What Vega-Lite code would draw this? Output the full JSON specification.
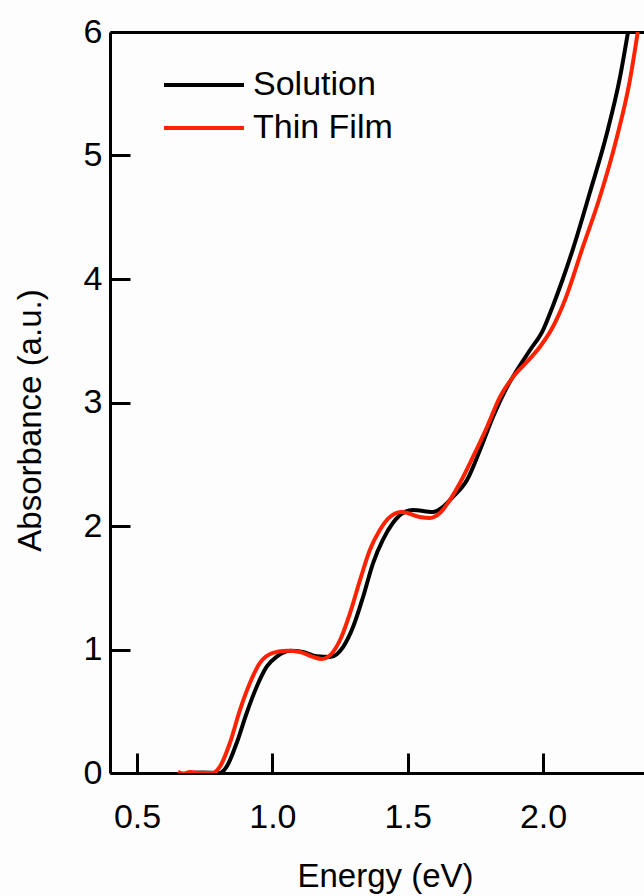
{
  "$schema": "https://vega.github.io/schema/vega-lite/v6.json",
  "width": 534,
  "height": 741,
  "autosize": {"type": "none"},
  "padding": {"left": 110, "top": 32, "right": 0, "bottom": 123},
  "background": "#fdfdfd",
  "config": {
    "view": {"stroke": null},
    "font": "Liberation Sans",
    "axis": {"grid": false, "domainColor": "#000", "domainWidth": 3, "tickColor": "#000", "tickWidth": 3, "labelColor": "#000", "titleColor": "#000", "labelFont": "Liberation Sans", "titleFont": "Liberation Sans", "titleFontWeight": "normal"}
  },
  "data": {"values": [
    {"s": "Solution", "e": 0.68, "a": 0.0},
    {"s": "Solution", "e": 0.74, "a": 0.005},
    {"s": "Solution", "e": 0.806, "a": 0.0},
    {"s": "Solution", "e": 0.831, "a": 0.051},
    {"s": "Solution", "e": 0.868, "a": 0.243},
    {"s": "Solution", "e": 0.905, "a": 0.486},
    {"s": "Solution", "e": 0.942, "a": 0.699},
    {"s": "Solution", "e": 0.979, "a": 0.861},
    {"s": "Solution", "e": 1.016, "a": 0.942},
    {"s": "Solution", "e": 1.065, "a": 0.99},
    {"s": "Solution", "e": 1.113, "a": 0.98},
    {"s": "Solution", "e": 1.164, "a": 0.945},
    {"s": "Solution", "e": 1.213, "a": 0.939},
    {"s": "Solution", "e": 1.261, "a": 1.02},
    {"s": "Solution", "e": 1.298, "a": 1.182},
    {"s": "Solution", "e": 1.335, "a": 1.425},
    {"s": "Solution", "e": 1.372, "a": 1.7},
    {"s": "Solution", "e": 1.408, "a": 1.887},
    {"s": "Solution", "e": 1.445, "a": 2.024},
    {"s": "Solution", "e": 1.482, "a": 2.105},
    {"s": "Solution", "e": 1.519, "a": 2.13},
    {"s": "Solution", "e": 1.593, "a": 2.113},
    {"s": "Solution", "e": 1.63, "a": 2.154},
    {"s": "Solution", "e": 1.667, "a": 2.235},
    {"s": "Solution", "e": 1.719, "a": 2.372},
    {"s": "Solution", "e": 1.767, "a": 2.615},
    {"s": "Solution", "e": 1.815, "a": 2.883},
    {"s": "Solution", "e": 1.867, "a": 3.126},
    {"s": "Solution", "e": 1.904, "a": 3.263},
    {"s": "Solution", "e": 1.952, "a": 3.425},
    {"s": "Solution", "e": 2.0, "a": 3.587},
    {"s": "Solution", "e": 2.036, "a": 3.78},
    {"s": "Solution", "e": 2.073, "a": 4.0},
    {"s": "Solution", "e": 2.11, "a": 4.24},
    {"s": "Solution", "e": 2.173, "a": 4.7},
    {"s": "Solution", "e": 2.236, "a": 5.18},
    {"s": "Solution", "e": 2.284, "a": 5.63},
    {"s": "Solution", "e": 2.314, "a": 6.0},
    {"s": "Thin Film", "e": 0.651, "a": 0.01},
    {"s": "Thin Film", "e": 0.67, "a": -0.005},
    {"s": "Thin Film", "e": 0.696, "a": 0.008},
    {"s": "Thin Film", "e": 0.73, "a": 0.0},
    {"s": "Thin Film", "e": 0.78, "a": 0.0},
    {"s": "Thin Film", "e": 0.806, "a": 0.051},
    {"s": "Thin Film", "e": 0.843, "a": 0.243},
    {"s": "Thin Film", "e": 0.88, "a": 0.51},
    {"s": "Thin Film", "e": 0.917, "a": 0.729},
    {"s": "Thin Film", "e": 0.954, "a": 0.891},
    {"s": "Thin Film", "e": 1.002, "a": 0.972},
    {"s": "Thin Film", "e": 1.053, "a": 0.99},
    {"s": "Thin Film", "e": 1.102, "a": 0.98},
    {"s": "Thin Film", "e": 1.15, "a": 0.94},
    {"s": "Thin Film", "e": 1.183, "a": 0.923},
    {"s": "Thin Film", "e": 1.25, "a": 1.077},
    {"s": "Thin Film", "e": 1.287, "a": 1.296},
    {"s": "Thin Film", "e": 1.324, "a": 1.563},
    {"s": "Thin Film", "e": 1.36, "a": 1.806},
    {"s": "Thin Film", "e": 1.397, "a": 1.968},
    {"s": "Thin Film", "e": 1.434, "a": 2.073},
    {"s": "Thin Film", "e": 1.479, "a": 2.113},
    {"s": "Thin Film", "e": 1.545, "a": 2.073},
    {"s": "Thin Film", "e": 1.582, "a": 2.065},
    {"s": "Thin Film", "e": 1.619, "a": 2.105},
    {"s": "Thin Film", "e": 1.656, "a": 2.211},
    {"s": "Thin Film", "e": 1.693, "a": 2.348},
    {"s": "Thin Film", "e": 1.741, "a": 2.559},
    {"s": "Thin Film", "e": 1.793, "a": 2.802},
    {"s": "Thin Film", "e": 1.841, "a": 3.045},
    {"s": "Thin Film", "e": 1.889, "a": 3.206},
    {"s": "Thin Film", "e": 1.94, "a": 3.328},
    {"s": "Thin Film", "e": 1.988, "a": 3.449},
    {"s": "Thin Film", "e": 2.036, "a": 3.611},
    {"s": "Thin Film", "e": 2.081, "a": 3.83},
    {"s": "Thin Film", "e": 2.147, "a": 4.259},
    {"s": "Thin Film", "e": 2.21, "a": 4.664},
    {"s": "Thin Film", "e": 2.273, "a": 5.15},
    {"s": "Thin Film", "e": 2.321, "a": 5.611},
    {"s": "Thin Film", "e": 2.35, "a": 6.0}
  ]},
  "layer": [
    {
      "mark": {"type": "line", "strokeWidth": 4, "interpolate": "monotone", "clip": true},
      "encoding": {
        "x": {"field": "e", "type": "quantitative", "scale": {"domain": [0.4, 2.373], "nice": false, "zero": false},
          "axis": {"orient": "bottom", "values": [0.5, 1.0, 1.5, 2.0], "format": ".1f", "tickSize": -20, "labelPadding": 47, "labelFontSize": 34, "labelBaseline": "top", "title": "Energy (eV)", "titleFontSize": 33, "titleX": 275, "titleY": 113, "titleBaseline": "alphabetic", "titleAlign": "center"}},
        "y": {"field": "a", "type": "quantitative", "scale": {"domain": [0, 6], "nice": false},
          "axis": {"values": [0, 1, 2, 3, 4, 5, 6], "tickSize": -20, "labelPadding": 28, "labelFontSize": 34, "title": "Absorbance (a.u.)", "titleFontSize": 33, "titleX": -80, "titleY": 388, "titleAngle": -90, "titleAlign": "center", "titleBaseline": "middle"}},
        "color": {"field": "s", "type": "nominal", "scale": {"domain": ["Solution", "Thin Film"], "range": ["#000000", "#ff2200"]},
          "legend": {"title": null, "orient": "none", "legendX": 77, "legendY": 36, "symbolType": "M-4,0H4", "symbolSize": 400, "symbolStrokeWidth": 4, "labelFontSize": 34, "labelOffset": 32, "rowPadding": 9, "labelColor": "#000", "labelFont": "Liberation Sans"}}
      }
    },
    {
      "mark": {"type": "rule", "opacity": 0},
      "encoding": {
        "x": {"datum": 0.4, "type": "quantitative", "axis": {"orient": "top", "labels": false, "ticks": false, "title": null}}
      }
    }
  ],
  "resolve": {"axis": {"x": "independent"}}
}
